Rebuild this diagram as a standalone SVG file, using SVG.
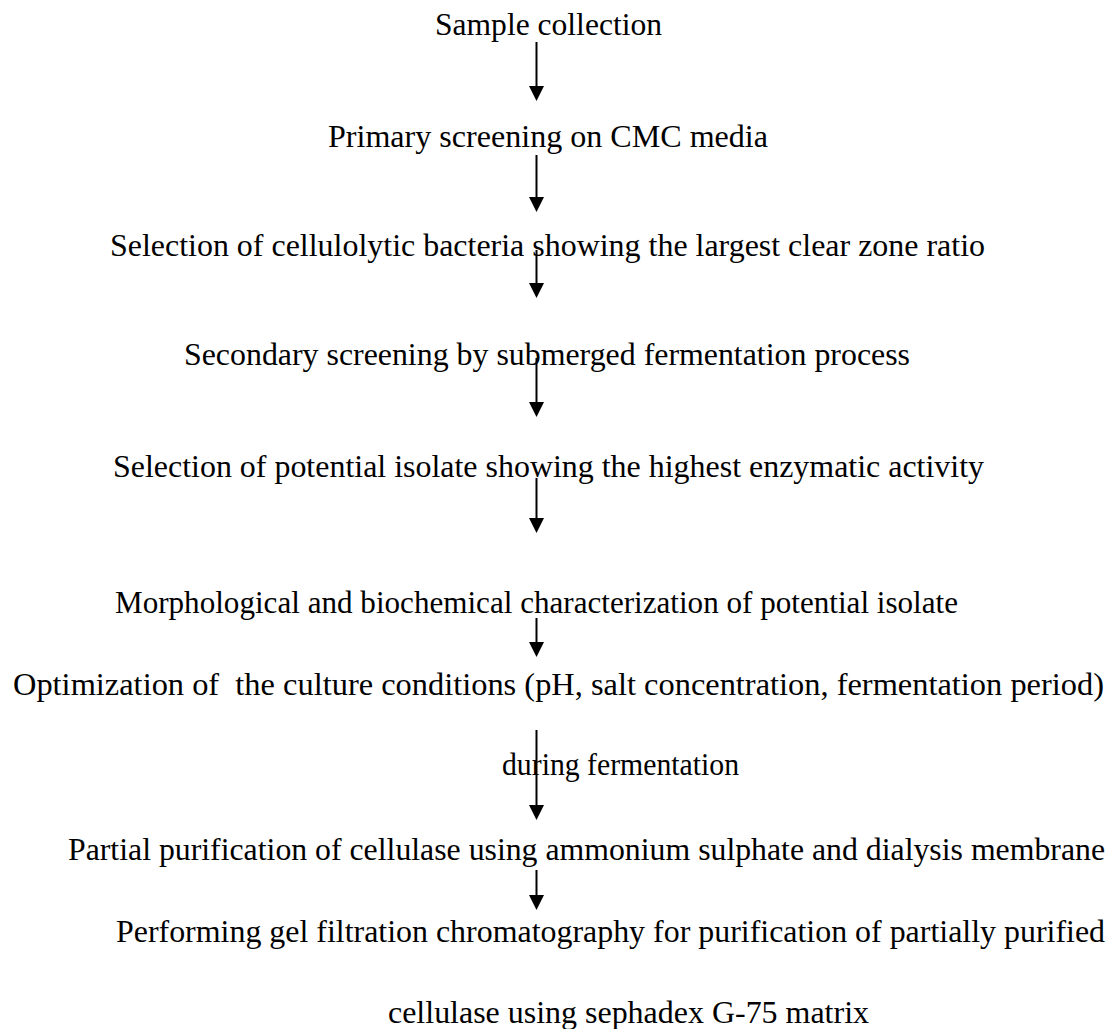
<svg xmlns="http://www.w3.org/2000/svg" width="1117" height="1029" viewBox="0 0 1117 1029">
<style>
.c{stroke:#000;stroke-width:2;fill:none}
</style>
<defs>
<marker id="ah" markerUnits="userSpaceOnUse" markerWidth="15" markerHeight="15" refX="0" refY="7.5" orient="auto">
<path d="M0,0 L15,7.5 L0,15 z" fill="#000"/>
</marker>
</defs>
<rect width="1117" height="1029" fill="#fff"/>
<g id="connectors">
<line class="c" x1="536.5" y1="42" x2="536.5" y2="86" marker-end="url(#ah)"/>
<line class="c" x1="536.5" y1="155" x2="536.5" y2="197" marker-end="url(#ah)"/>
<line class="c" x1="536.5" y1="250" x2="536.5" y2="283" marker-end="url(#ah)"/>
<line class="c" x1="536.5" y1="358" x2="536.5" y2="402" marker-end="url(#ah)"/>
<line class="c" x1="536.5" y1="478" x2="536.5" y2="518" marker-end="url(#ah)"/>
<line class="c" x1="536.5" y1="618" x2="536.5" y2="642" marker-end="url(#ah)"/>
<line class="c" x1="536.5" y1="730" x2="536.5" y2="805" marker-end="url(#ah)"/>
<line class="c" x1="536.5" y1="870" x2="536.5" y2="895" marker-end="url(#ah)"/>
</g>
<g font-family="Liberation Serif, DejaVu Serif, serif" font-size="32" fill="#000">
<g id="n1"><text x="435" y="35" textLength="227" lengthAdjust="spacingAndGlyphs">Sample collection</text></g>
<g id="n2"><text x="328" y="147" textLength="440" lengthAdjust="spacingAndGlyphs">Primary screening on CMC media</text></g>
<g id="n3"><text x="110" y="256" textLength="875" lengthAdjust="spacingAndGlyphs">Selection of cellulolytic bacteria showing the largest clear zone ratio</text></g>
<g id="n4"><text x="184" y="365" textLength="726" lengthAdjust="spacingAndGlyphs">Secondary screening by submerged fermentation process</text></g>
<g id="n5"><text x="113" y="477" textLength="871" lengthAdjust="spacingAndGlyphs">Selection of potential isolate showing the highest enzymatic activity</text></g>
<g id="n6"><text x="115" y="613" textLength="843" lengthAdjust="spacingAndGlyphs">Morphological and biochemical characterization of potential isolate</text></g>
<g id="n7"><text x="13" y="695" xml:space="preserve" textLength="1091" lengthAdjust="spacingAndGlyphs">Optimization of  the culture conditions (pH, salt concentration, fermentation period)</text>
<text x="502" y="775" textLength="237" lengthAdjust="spacingAndGlyphs">during fermentation</text></g>
<g id="n8"><text x="68" y="860" textLength="1037" lengthAdjust="spacingAndGlyphs">Partial purification of cellulase using ammonium sulphate and dialysis membrane</text></g>
<g id="n9"><text x="116" y="942" textLength="989" lengthAdjust="spacingAndGlyphs">Performing gel filtration chromatography for purification of partially purified</text>
<text x="388" y="1023" textLength="481" lengthAdjust="spacingAndGlyphs">cellulase using sephadex G-75 matrix</text></g>
</g>
</svg>
